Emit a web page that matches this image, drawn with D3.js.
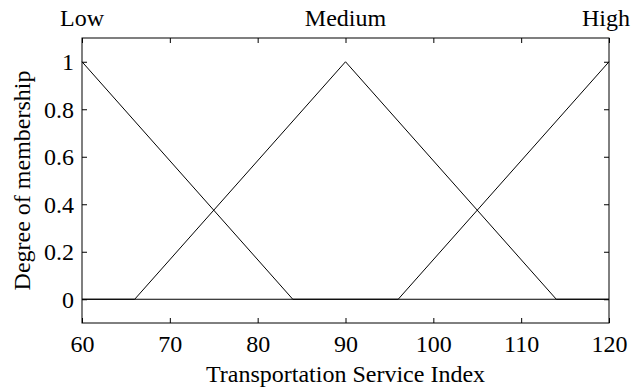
<!DOCTYPE html>
<html>
<head>
<meta charset="utf-8">
<script src="https://cdn.jsdelivr.net/npm/d3@7"></script>
<style>
  html, body { margin: 0; padding: 0; background: #fff; }
  svg text { font-family: "Liberation Serif", "Times New Roman", serif; fill: #000; }
</style>
</head>
<body>
<svg id="chart" width="631" height="388"></svg>
<script>
// Membership functions for the transportation service index
const xTicks = [60, 70, 80, 90, 100, 110, 120];
const yTicks = [0, 0.2, 0.4, 0.6, 0.8, 1];
const setNames = ["Low", "Medium", "High"];
const setPeaks = [60, 90, 120];
const lowPoints = [[60, 1], [84, 0], [120, 0]];
const mediumPoints = [[60, 0], [66, 0], [90, 1], [114, 0], [120, 0]];
const highPoints = [[60, 0], [96, 0], [120, 1]];

const W = 631;
const svg = d3.select("#chart");
const m = { left: 82, right: 609, top: 38, bottom: 323 };

const x = d3.scaleLinear().domain([60, 120]).range([m.left, m.right]);
const y = d3.scaleLinear().domain([-0.1, 1.1]).range([m.bottom, m.top]);

const fontFamily = "'Liberation Serif', 'Times New Roman', serif";
const fontSize = 24;
const tickLen = 5;

// Inward ticks on all four sides
const bottomAxis = d3.axisBottom(x).tickValues(xTicks).tickSize(-tickLen).tickFormat(d3.format("d"));
const topAxis = d3.axisTop(x).tickValues(xTicks).tickSize(-tickLen).tickFormat("");
const leftAxis = d3.axisLeft(y).tickValues(yTicks).tickSize(-tickLen).tickFormat(d => (d === 0 || d === 1) ? String(d) : d3.format(".1f")(d));
const rightAxis = d3.axisRight(y).tickValues(yTicks).tickSize(-tickLen).tickFormat("");

function styleAxis(g) {
  g.attr("font-family", fontFamily).attr("font-size", fontSize);
  g.select(".domain").remove();
  g.selectAll(".tick line").attr("stroke", "#000").attr("stroke-width", 1);
  g.selectAll(".tick text").style("font-family", fontFamily).style("font-size", fontSize + "px");
}

svg.append("g").attr("transform", `translate(0,${m.bottom})`).call(bottomAxis).call(styleAxis)
  .selectAll(".tick text").attr("dy", null).attr("y", 29);
svg.append("g").attr("transform", `translate(0,${m.top})`).call(topAxis).call(styleAxis);
svg.append("g").attr("transform", `translate(${m.left},0)`).call(leftAxis).call(styleAxis)
  .selectAll(".tick text").attr("x", -8).attr("dy", "0.34em");
svg.append("g").attr("transform", `translate(${m.right},0)`).call(rightAxis).call(styleAxis);

// Frame
svg.append("rect")
  .attr("x", m.left).attr("y", m.top)
  .attr("width", m.right - m.left).attr("height", m.bottom - m.top)
  .attr("fill", "none").attr("stroke", "#000").attr("stroke-width", 1);

// Membership curves
const line = d3.line().x(d => x(d[0])).y(d => y(d[1]));
[lowPoints, mediumPoints, highPoints].forEach(pts => {
  svg.append("path").datum(pts)
    .attr("d", line)
    .attr("fill", "none")
    .attr("stroke", "#000")
    .attr("stroke-width", 1);
});

// Set names above each peak, kept inside the canvas
svg.selectAll(".setname").data(setNames).enter().append("text")
  .attr("class", "setname")
  .attr("x", (d, i) => x(setPeaks[i]))
  .attr("y", 26)
  .attr("text-anchor", "middle")
  .attr("font-size", fontSize)
  .text(d => d)
  .each(function () {
    const bb = this.getBBox();
    const overflow = bb.x + bb.width - (W - 1);
    if (overflow > 0) d3.select(this).attr("x", +d3.select(this).attr("x") - overflow);
  });

// Axis titles
svg.append("text")
  .attr("x", (m.left + m.right) / 2)
  .attr("y", 382)
  .attr("text-anchor", "middle")
  .attr("font-size", fontSize)
  .text("Transportation Service Index");

svg.append("text")
  .attr("transform", `translate(30,${(m.top + m.bottom) / 2}) rotate(-90)`)
  .attr("text-anchor", "middle")
  .attr("font-size", fontSize)
  .text("Degree of membership");
</script>
</body>
</html>
